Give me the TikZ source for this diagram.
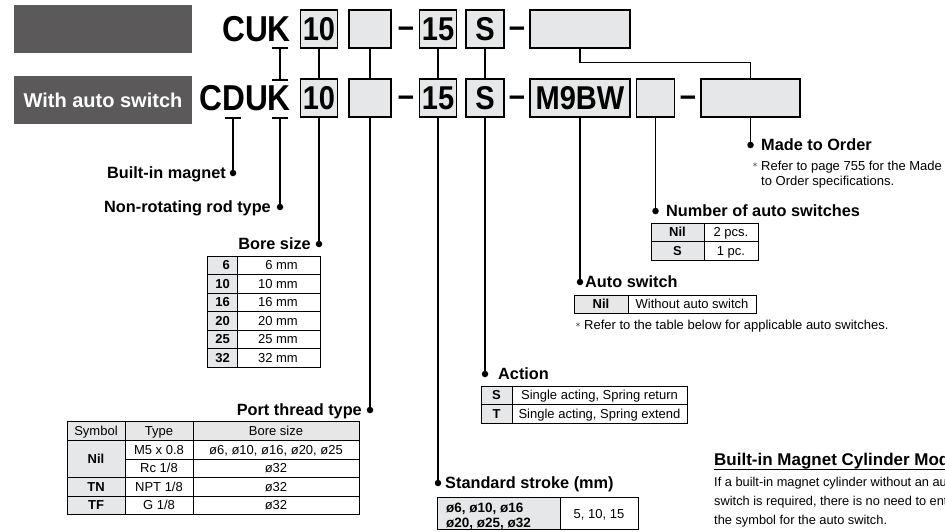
\documentclass[tikz,border=0pt]{standalone}
\usepackage{fontspec}
\setmainfont{Liberation Sans}
\newfontfamily\codefont[FakeStretch=0.88]{Liberation Sans}
\usepackage{tikz}
\definecolor{boxgray}{HTML}{E6E7E8}
\definecolor{bandgray}{HTML}{5B595A}
\newcommand{\lblfont}{\bfseries\fontsize{16.3}{18}\selectfont}
\newcommand{\tblfont}{\fontsize{13}{15}\selectfont}
\tikzset{
  band/.style={fill=bandgray, minimum width=178pt, minimum height=48pt, inner sep=0pt,
    text=white, font=\bfseries\fontsize{20}{22}\selectfont},
  model/.style={inner sep=0pt, font=\codefont\bfseries\fontsize{36}{36}\selectfont},
  codebox/.style={draw, fill=boxgray, line width=1.2pt, minimum height=38pt, inner sep=1.5pt,
    font=\codefont\bfseries\fontsize{33}{33}\selectfont},
  hyph/.style={inner sep=0pt, anchor=base, font=\codefont\bfseries\fontsize{33}{33}\selectfont},
  conn/.style={line width=1.5pt},
  endpt/.style={circle, fill, inner sep=0pt, minimum size=6.5pt},
  lbl/.style={inner sep=0pt, font=\lblfont, yshift=-5.8pt},
  cell/.style={inner sep=0pt, anchor=base, yshift=-4.5pt, font=\tblfont},
  grid/.style={line width=1pt},
}
\begin{document}
\begin{tikzpicture}[x=1pt,y=-1pt]
\useasboundingbox (0,0) rectangle (945,531);
\clip (0,0) rectangle (945,531);

\node[band] (plainband) at (103,29) {};
\node[band] (autoband) at (103,100) {With auto switch};

\node[model, anchor=base east] (cuk) at (291,41) {CUK};
\node[model, anchor=base east] (cduk) at (291,110) {CDUK};

\node[codebox, minimum width=37pt] (boreA) at (319,29) {10};
\node[codebox, minimum width=42pt] (portA) at (370,29) {};
\node[hyph] (hyA) at (406,37) {–};
\node[codebox, minimum width=37pt] (strokeA) at (438,29) {15};
\node[codebox, minimum width=38pt] (actA) at (485,29) {S};
\node[hyph] (hyB) at (517,37) {–};
\node[codebox, minimum width=100pt] (orderA) at (580,29) {};

\node[codebox, minimum width=37pt] (bore) at (319,98) {10};
\node[codebox, minimum width=42pt] (port) at (370,98) {};
\node[hyph] (hyC) at (406,106) {–};
\node[codebox, minimum width=37pt] (stroke) at (438,98) {15};
\node[codebox, minimum width=38pt] (act) at (485,98) {S};
\node[hyph] (hyD) at (517,106) {–};
\node[codebox, minimum width=100pt] (sw) at (580,98) {M9BW};
\node[codebox, minimum width=38pt] (swnum) at (655.5,98) {};
\node[hyph] (hyE) at (688,106) {–};
\node[codebox, minimum width=99pt] (order) at (750.5,98) {};

\foreach \a/\b in {boreA/bore, portA/port, strokeA/stroke, actA/act}
  \draw[conn] (\a) -- (\b);
\draw[conn] (orderA.south) -- ++(0,14) -| (order.north);

\coordinate (kA) at (280,48);
\coordinate (kB) at (280,80);
\draw[conn] ([xshift=-8pt]kA) -- ([xshift=8pt]kA) (kA) -- (kB)
  ([xshift=-8pt]kB) -- ([xshift=8pt]kB);

\node[endpt] (magdot) at (233,173) {};
\node[endpt] (roddot) at (280,207) {};
\node[endpt] (boredot) at (319,244) {};
\node[endpt] (portdot) at (370,410) {};
\node[endpt] (strokedot) at (438,483) {};
\node[endpt] (actdot) at (485,374) {};
\node[endpt] (swdot) at (580,282) {};
\node[endpt] (numdot) at (655.5,211) {};
\node[endpt] (orderdot) at (750.5,145) {};

\coordinate (magtop) at (233,118);
\coordinate (rodtop) at (280,118);
\draw[conn] ([xshift=-8pt]magtop) -- ([xshift=8pt]magtop) (magtop) -- (magdot.center);
\draw[conn] ([xshift=-8pt]rodtop) -- ([xshift=8pt]rodtop) (rodtop) -- (roddot.center);
\foreach \a/\b in {bore/boredot, port/portdot, stroke/strokedot, act/actdot,
    sw/swdot, swnum/numdot, order/orderdot}
  \draw[conn] (\a.south) -- (\b.center);

\node[lbl, anchor=base east] (maglbl) at (226,173) {Built-in magnet};
\node[lbl, anchor=base east] (rodlbl) at (271,207) {Non-rotating rod type};
\node[lbl, anchor=base east] (borelbl) at (311,244) {Bore size};
\node[lbl, anchor=base east] (portlbl) at (362,410) {Port thread type};
\node[lbl, anchor=base west] (strokelbl) at (445,483) {Standard stroke (mm)};
\node[lbl, anchor=base west] (actlbl) at (498,374) {Action};
\node[lbl, anchor=base west] (swlbl) at (585,282) {Auto switch};
\node[lbl, anchor=base west] (numlbl) at (666,211) {Number of auto switches};
\node[lbl, anchor=base west] (orderlbl) at (761,145) {Made to Order};

\node[inner sep=0pt] (ordast) at (755,165) {\fontsize{10}{10}\selectfont$\ast$};
\node[anchor=north west, align=left, inner sep=0pt, font=\fontsize{13}{15}\selectfont]
  (ordnote) at (761,161) {Refer to page 755 for the Made\\to Order specifications.};

\foreach \v [count=\i] in {6,10,16,20,25,32} {
  \pgfmathsetmacro\yt{237.5+\i*18.5}
  \draw[grid, fill=boxgray] (207,\yt) rectangle (237,\yt+18.5);
  \draw[grid] (237,\yt) rectangle (320,\yt+18.5);
  \node[cell, anchor=base east, font=\tblfont\bfseries] (bs\i) at (230,\yt+9.25) {\v};
  \node[cell, anchor=base east] (bv\i) at (298,\yt+9.25) {\v\ mm};
}

\fill[boxgray] (67,421) rectangle (359,440) (67,440) rectangle (125,514);
\draw[grid] (67,421) rectangle (359,514) (125,421) -- (125,514) (193,421) -- (193,514)
  (67,440) -- (359,440) (125,459) -- (359,459) (67,477) -- (359,477) (67,496) -- (359,496);
\node[cell] (ph1) at (96,430.5) {Symbol};
\node[cell] (ph2) at (159,430.5) {Type};
\node[cell] (ph3) at (276,430.5) {Bore size};
\node[cell, font=\tblfont\bfseries] (pnil) at (96,458.5) {Nil};
\node[cell] (pm5) at (159,449.5) {M5 x 0.8};
\node[cell] (pm5b) at (276,449.5) {ø6, ø10, ø16, ø20, ø25};
\node[cell] (prc) at (159,468) {Rc 1/8};
\node[cell] (prcb) at (276,468) {ø32};
\node[cell, font=\tblfont\bfseries] (ptn) at (96,486.5) {TN};
\node[cell] (pnpt) at (159,486.5) {NPT 1/8};
\node[cell] (pnptb) at (276,486.5) {ø32};
\node[cell, font=\tblfont\bfseries] (ptf) at (96,505) {TF};
\node[cell] (pg) at (159,505) {G 1/8};
\node[cell] (pgb) at (276,505) {ø32};

\draw[grid, fill=boxgray] (437,497) rectangle (560,529.5);
\draw[grid] (560,497) rectangle (638,529.5);
\node[anchor=north west, align=left, inner sep=0pt, font=\bfseries\fontsize{13.5}{15}\selectfont]
  (strokebores) at (446,502.5) {ø6, ø10, ø16\\ø20, ø25, ø32};
\node[cell] (strokelen) at (599,513.5) {5, 10, 15};

\draw[grid, fill=boxgray] (481,386) rectangle (512,423);
\draw[grid] (512,386) rectangle (687,423) (481,404.5) -- (687,404.5);
\node[cell, font=\tblfont\bfseries] (acts) at (496.5,395.25) {S};
\node[cell] (actsv) at (599.5,395.25) {Single acting, Spring return};
\node[cell, font=\tblfont\bfseries] (actt) at (496.5,413.75) {T};
\node[cell] (acttv) at (599.5,413.75) {Single acting, Spring extend};

\draw[grid, fill=boxgray] (574,295) rectangle (628,313.5);
\draw[grid] (628,295) rectangle (756,313.5);
\node[cell, font=\tblfont\bfseries] (swnil) at (601,304.25) {Nil};
\node[cell] (swnilv) at (692,304.25) {Without auto switch};
\node[inner sep=0pt] (swast) at (578,325) {\fontsize{10}{10}\selectfont$\ast$};
\node[anchor=base west, inner sep=0pt, font=\fontsize{13}{15}\selectfont]
  (swnote) at (584,329.5) {Refer to the table below for applicable auto switches.};

\draw[grid, fill=boxgray] (651,223) rectangle (704,260);
\draw[grid] (704,223) rectangle (758,260) (651,241.5) -- (758,241.5);
\node[cell, font=\tblfont\bfseries] (numnil) at (677.5,232.25) {Nil};
\node[cell] (numnilv) at (731,232.25) {2 pcs.};
\node[cell, font=\tblfont\bfseries] (nums) at (677.5,250.75) {S};
\node[cell] (numsv) at (731,250.75) {1 pc.};

\node[anchor=base west, inner sep=0pt, font=\bfseries\fontsize{17}{18}\selectfont]
  (maghead) at (714,465) {Built-in Magnet Cylinder Model};
\draw[line width=1.4pt] ([yshift=-4.5pt]maghead.base west) -- ([yshift=-4.5pt]maghead.base east);
\node[anchor=north west, align=left, inner sep=0pt, font=\fontsize{12.8}{18.7}\selectfont]
  (magbody) at (714,477.5) {If a built-in magnet cylinder without an auto\\switch is required, there is no need to enter\\the symbol for the auto switch.};
\end{tikzpicture}
\end{document}
